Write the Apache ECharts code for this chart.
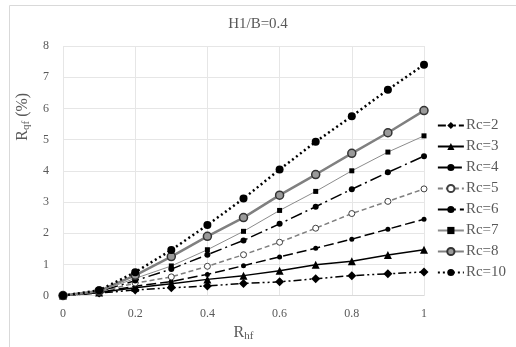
<!DOCTYPE html>
<html>
<head>
<meta charset="utf-8">
<script src="https://cdn.jsdelivr.net/npm/echarts@6/dist/echarts.min.js"></script>
<style>
  html, body { margin: 0; padding: 0; background: #fff; }
  #chart { width: 516px; height: 347px; }
</style>
</head>
<body>
<div id="chart"></div>
<script>
// R_hf values along the x axis
const rhf = [0, 0.1, 0.2, 0.3, 0.4, 0.5, 0.6, 0.7, 0.8, 0.9, 1];

// R_qf (%) for each Rc
const rc2 = [0, 0.08, 0.18, 0.25, 0.31, 0.39, 0.44, 0.54, 0.64, 0.7, 0.76];
const rc3 = [0, 0.1, 0.25, 0.38, 0.52, 0.64, 0.8, 0.99, 1.1, 1.3, 1.47];
const rc4 = [0, 0.1, 0.3, 0.45, 0.68, 0.96, 1.24, 1.52, 1.81, 2.13, 2.45];
const rc5 = [0, 0.12, 0.4, 0.6, 0.94, 1.31, 1.71, 2.16, 2.63, 3.02, 3.42];
const rc6 = [0, 0.13, 0.48, 0.85, 1.31, 1.77, 2.3, 2.85, 3.41, 3.95, 4.47];
const rc7 = [0, 0.14, 0.55, 0.95, 1.47, 2.06, 2.73, 3.34, 4.0, 4.6, 5.12];
const rc8 = [0, 0.15, 0.65, 1.25, 1.9, 2.5, 3.22, 3.88, 4.56, 5.22, 5.93];
const rc10 = [0, 0.17, 0.75, 1.46, 2.26, 3.11, 4.04, 4.93, 5.75, 6.6, 7.4];

const names = ['Rc=2', 'Rc=3', 'Rc=4', 'Rc=5', 'Rc=6', 'Rc=7', 'Rc=8', 'Rc=10'];

const serif = '"Liberation Serif", "DejaVu Serif", serif';
const textGray = '#595959';

function pairs(ys) {
  return rhf.map((x, i) => [x, ys[i]]);
}

function line(name, ys, color, width, dash, symbol, size, extra) {
  return Object.assign({
    name: name,
    type: 'line',
    data: pairs(ys),
    symbol: symbol,
    symbolSize: size,
    lineStyle: { color: color, width: width, type: dash },
    itemStyle: { color: color },
    z: 3,
  }, extra || {});
}

const chart = echarts.init(document.getElementById('chart'));

chart.setOption({
  animation: false,
  title: {
    text: 'H1/B=0.4',
    left: 'center',
    top: 12,
    textStyle: { fontFamily: serif, fontSize: 15, fontWeight: 'normal', color: textGray },
  },
  // frame of the original figure: only top and left edges fall inside the crop
  graphic: [
    {
      type: 'rect',
      shape: { x: 9.5, y: 5.5, width: 530, height: 360 },
      style: { fill: 'none', stroke: '#d9d9d9', lineWidth: 1 },
      silent: true,
    },
  ],
  legend: {
    orient: 'vertical',
    right: 5,
    top: 113,
    itemGap: 6,
    itemWidth: 26,
    itemHeight: 9,
    textStyle: { fontFamily: serif, fontSize: 15, color: textGray, padding: [0, 0, 0, -3] },
    data: names,
  },
  grid: { left: 63, right: 92, top: 46, bottom: 49 },
  xAxis: {
    type: 'value',
    min: 0,
    max: 1,
    interval: 0.2,
    name: '{b|R}{s|hf}',
    nameLocation: 'middle',
    nameGap: 24,
    nameTextStyle: {
      rich: {
        b: { fontFamily: serif, fontSize: 16, color: textGray },
        s: { fontFamily: serif, fontSize: 11, color: textGray, verticalAlign: 'bottom', padding: [8, 0, 0, 0] },
      },
    },
    axisLabel: { fontFamily: serif, fontSize: 12, color: textGray, margin: 12 },
    axisLine: { show: true, lineStyle: { color: '#d9d9d9' } },
    axisTick: { show: false },
    splitLine: { lineStyle: { color: '#e6e6e6' } },
  },
  yAxis: {
    type: 'value',
    min: 0,
    max: 8,
    interval: 1,
    name: '{b|R}{s|qf}{b| (%)}',
    nameLocation: 'middle',
    nameGap: 28,
    nameTextStyle: {
      padding: [0, 0, 0, 108],
      rich: {
        b: { fontFamily: serif, fontSize: 16, color: textGray },
        s: { fontFamily: serif, fontSize: 11, color: textGray, verticalAlign: 'bottom', padding: [8, 0, 0, 0] },
      },
    },
    axisLabel: { fontFamily: serif, fontSize: 12, color: textGray, margin: 14 },
    axisLine: { show: false },
    axisTick: { show: false },
    splitLine: { lineStyle: { color: '#e6e6e6' } },
  },
  series: [
    line('Rc=2', rc2, '#000', 1.5, [8, 3, 2, 3, 2, 3], 'diamond', 9),
    line('Rc=3', rc3, '#000', 1.5, 'solid', 'triangle', 8),
    line('Rc=4', rc4, '#000', 1.5, [10, 4], 'circle', 5),
    line('Rc=5', rc5, '#7f7f7f', 1.5, [5, 3], 'circle', 6, {
      itemStyle: { color: '#fff', borderColor: '#404040', borderWidth: 1 },
    }),
    line('Rc=6', rc6, '#000', 1.5, [12, 4, 2, 4], 'circle', 6),
    line('Rc=7', rc7, '#8c8c8c', 1, 'solid', 'rect', 5, { itemStyle: { color: '#000' } }),
    line('Rc=8', rc8, '#808080', 2.5, 'solid', 'circle', 8, {
      itemStyle: { color: '#9a9a9a', borderColor: '#333', borderWidth: 1.5 },
    }),
    line('Rc=10', rc10, '#000', 2.5, [2, 3], 'circle', 8),
  ],
});
</script>
</body>
</html>
